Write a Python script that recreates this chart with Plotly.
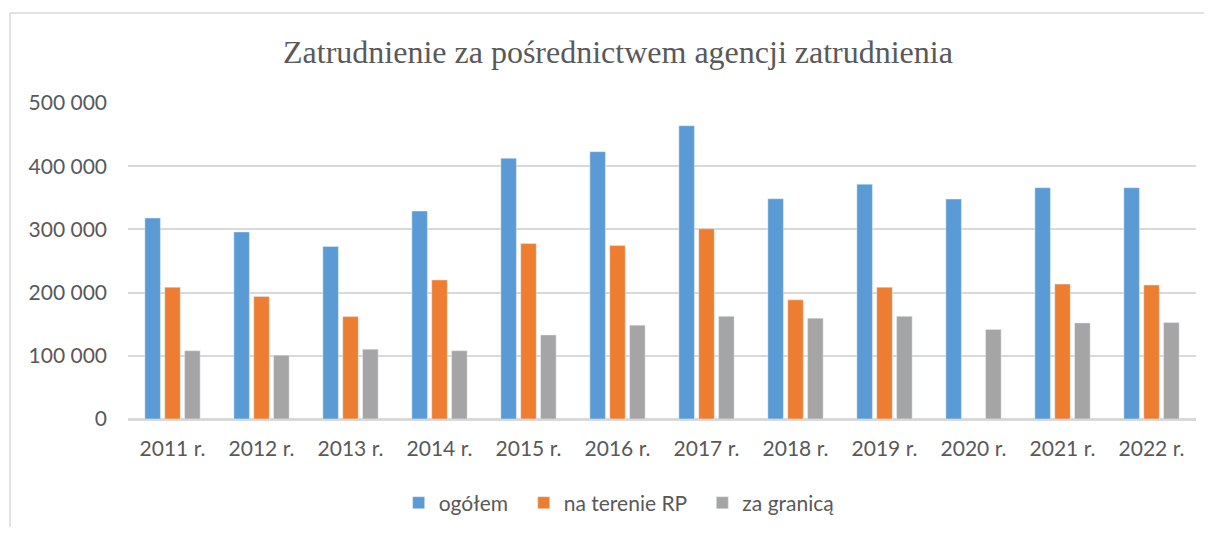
import plotly.graph_objs as go

# Data
years = ['2011 r.', '2012 r.', '2013 r.', '2014 r.', '2015 r.', '2016 r.',
         '2017 r.', '2018 r.', '2019 r.', '2020 r.', '2021 r.', '2022 r.']
ogolem = [318000, 296000, 273000, 329000, 412500, 423000,
          464000, 348500, 371500, 348000, 366000, 366000]
na_terenie_rp = [208500, 194000, 162000, 220000, 277500, 274500,
                 301000, 188500, 208500, None, 213500, 212000]
za_granica = [108000, 101000, 110500, 108000, 133000, 148500,
              162500, 159500, 162500, 141500, 152000, 152500]

font_name = 'Lato, Open Sans, sans-serif'
grey_text = '#595959'
pad = '\u00a0\u00a0'  # a little extra room between legend entries

trace1 = go.Bar(x=years, y=ogolem, name='ogółem' + pad, marker_color='#5b9bd5')
trace2 = go.Bar(x=years, y=na_terenie_rp, name='na terenie RP' + pad, marker_color='#ed7d31')
trace3 = go.Bar(x=years, y=za_granica, name='za granicą', marker_color='#a5a5a5')
data = [trace1, trace2, trace3]

# the page body has an 8px margin, so the figure is a bit smaller than the window
layout = go.Layout(
    width=1196, height=519,
    paper_bgcolor='white', plot_bgcolor='white',
    margin=dict(l=120, r=8, t=95, b=108),
    separators=', ',
    font=dict(family=font_name, size=21, color=grey_text),
    title=dict(text='Zatrudnienie za pośrednictwem agencji zatrudnienia',
               font=dict(family='Liberation Serif, Times New Roman, serif', size=32, color=grey_text),
               x=0.51, xanchor='center', xref='container',
               y=0.915, yanchor='middle', yref='container'),
    barmode='group', bargap=0.33, bargroupgap=0.22,
    xaxis=dict(showgrid=False, showline=True, linecolor='#d9d9d9', linewidth=1.5,
               ticks='', ticklabelstandoff=10, tickfont=dict(size=21)),
    yaxis=dict(range=[0, 500000], dtick=100000, tickformat=',d',
               showgrid=True, gridcolor='#d9d9d9', gridwidth=1.5,
               zeroline=True, zerolinecolor='#d9d9d9', zerolinewidth=1.5,
               showline=False, ticks='', ticklabelstandoff=20, tickfont=dict(size=21)),
    legend=dict(orientation='h', xref='container', yref='container',
                x=0.511, xanchor='center', y=0.0462, yanchor='middle',
                font=dict(size=21), itemwidth=30, traceorder='normal'),
    shapes=[
        dict(type='line', xref='paper', yref='paper', x0=-0.1105, x1=1.1, y0=1.285, y1=1.285,
             line=dict(color='#d9d9d9', width=1.5)),
        dict(type='line', xref='paper', yref='paper', x0=-0.1105, x1=-0.1105, y0=1.285, y1=-0.4,
             line=dict(color='#d9d9d9', width=1.5)),
    ],
)

fig = go.Figure(data=data, layout=layout)
fig.write_html('out.html')
